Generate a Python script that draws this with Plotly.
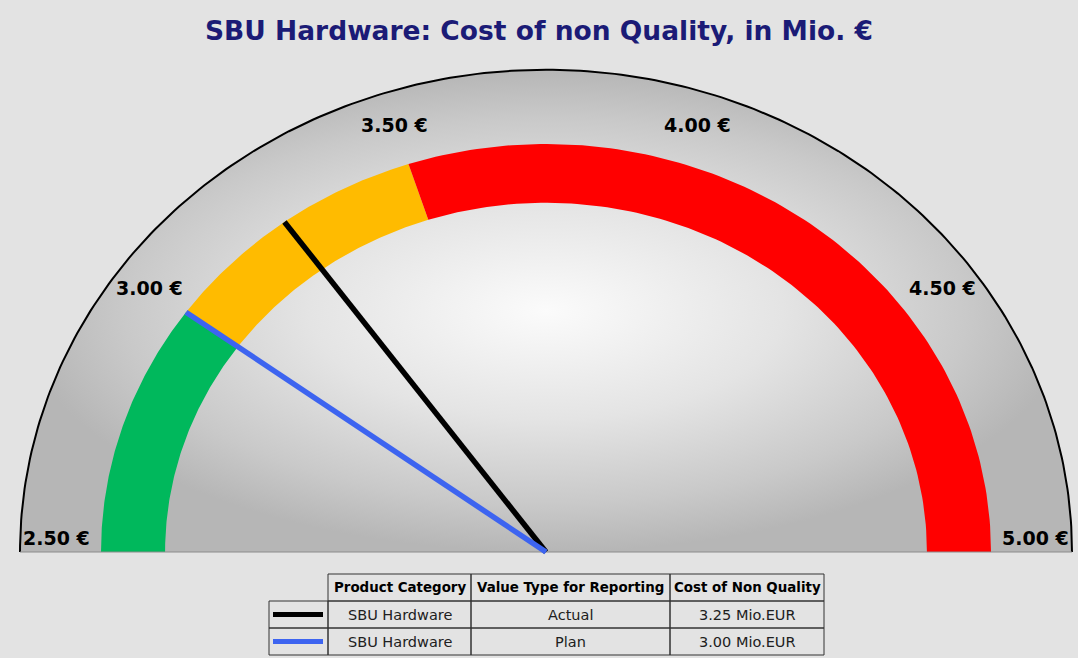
import numpy as np
import plotly.graph_objects as go

# ---------------- data ----------------
scale_min, scale_max = 2.5, 5.0
tick_values = [2.5, 3.0, 3.5, 4.0, 4.5, 5.0]
tick_labels = ["2.50 €", "3.00 €", "3.50 €", "4.00 €", "4.50 €", "5.00 €"]
band_starts = [2.5, 3.0, 3.5]
band_ends = [3.0, 3.5, 5.0]
band_colors = ["#00b85c", "#ffbb00", "#ff0000"]
series_names = ["Actual", "Plan"]
series_values = [3.25, 3.00]
series_colors = ["#000000", "#3d64f0"]
product_category = ["SBU Hardware", "SBU Hardware"]
table_headers = ["Product Category", "Value Type for Reporting", "Cost of Non Quality"]
title_text = "SBU Hardware: Cost of non Quality, in Mio. €"

# ---------------- style / geometry ----------------
W, H = 1078, 658
BG = "#e3e3e3"
CX_PX, CY_PX = 546, 552          # gauge centre in pixels
PX_X, PX_Y = 445.0, 408.0        # pixels per gauge unit
R_OUT = 1.182                    # outer dial edge
R_BAND_OUT, R_BAND_IN = 1.0, 0.856
R_NEEDLE = 1.0
R_LABEL = 1.10
FONT = "DejaVu Sans"


def theta(v):
    return np.pi * (1 - (v - scale_min) / (scale_max - scale_min))


fig = go.Figure()

# dial face with radial gradient
t = np.linspace(0, np.pi, 241)
fig.add_trace(go.Scatter(
    x=np.r_[R_OUT * np.cos(t), R_OUT], y=np.r_[R_OUT * np.sin(t), 0],
    mode="lines", fill="toself", line=dict(width=0),
    fillgradient=dict(type="radial",
                      colorscale=[[0, "#fbfbfb"], [0.45, "#e4e4e4"],
                                  [0.8, "#c9c9c9"], [1, "#b6b6b6"]]),
    hoverinfo="skip"))

# colour bands
for s, e, c in zip(band_starts, band_ends, band_colors):
    tt = np.linspace(theta(s), theta(e), 120)
    xs = np.r_[R_BAND_OUT * np.cos(tt), R_BAND_IN * np.cos(tt[::-1])]
    ys = np.r_[R_BAND_OUT * np.sin(tt), R_BAND_IN * np.sin(tt[::-1])]
    fig.add_trace(go.Scatter(x=np.r_[xs, xs[0]], y=np.r_[ys, ys[0]], mode="lines",
                             fill="toself", fillcolor=c, line=dict(width=0, color=c),
                             hoverinfo="skip"))

# outer rim and base line
fig.add_trace(go.Scatter(x=R_OUT * np.cos(t), y=R_OUT * np.sin(t), mode="lines",
                         line=dict(color="#000000", width=2), hoverinfo="skip"))
fig.add_trace(go.Scatter(x=[-R_OUT, R_OUT], y=[0, 0], mode="lines",
                         line=dict(color="#8c8c8c", width=1), hoverinfo="skip"))

# needles
for name, v, c in zip(series_names, series_values, series_colors):
    fig.add_trace(go.Scatter(x=[0, R_NEEDLE * np.cos(theta(v))],
                             y=[0, R_NEEDLE * np.sin(theta(v))],
                             mode="lines", name=name,
                             line=dict(color=c, width=5.5), hoverinfo="skip"))

# tick labels
for v, lab in zip(tick_values, tick_labels):
    th = theta(v)
    end = v in (scale_min, scale_max)
    fig.add_annotation(
        x=R_LABEL * np.cos(th), y=0 if end else R_LABEL * np.sin(th),
        xref="x", yref="y", text=f"<b>{lab}</b>", showarrow=False,
        yanchor="bottom" if end else "middle", yshift=1 if end else 0,
        font=dict(family=FONT, size=19, color="#000000"))

# title
fig.add_annotation(x=0.5, y=1 - 30 / H, xref="paper", yref="paper",
                   xanchor="center", yanchor="middle",
                   text=f"<b>{title_text}</b>", showarrow=False,
                   font=dict(family=FONT, size=26.5, color="#1b1b76"))

# ---------------- table (grid drawn as layout shapes) ----------------
col_edges = [269, 328, 471, 670, 824]
row_edges = [574, 601, 628, 655]
value_labels = [f"{v:.2f} Mio.EUR" for v in series_values]
body_cols = [None, product_category, series_names, value_labels]


def px(x):
    return x / W


def py(y):
    return 1 - y / H


for r in range(3):
    for c in range(4):
        if r == 0 and c == 0:
            continue
        fig.add_shape(type="rect", xref="paper", yref="paper",
                      x0=px(col_edges[c]), x1=px(col_edges[c + 1]),
                      y0=py(row_edges[r]), y1=py(row_edges[r + 1]),
                      line=dict(color="#333333", width=1), layer="above")
        xc = (col_edges[c] + col_edges[c + 1]) / 2
        yc = (row_edges[r] + row_edges[r + 1]) / 2
        if r == 0:
            fig.add_annotation(x=px(xc), y=py(yc), xref="paper", yref="paper",
                               text=f"<b>{table_headers[c - 1]}</b>", showarrow=False,
                               xanchor="center", yanchor="middle",
                               font=dict(family=FONT, size=13.4, color="#000000"))
        elif c == 0:
            fig.add_shape(type="line", xref="paper", yref="paper",
                          x0=px(col_edges[0] + 4), x1=px(col_edges[1] - 5),
                          y0=py(yc), y1=py(yc),
                          line=dict(color=series_colors[r - 1], width=5), layer="above")
        else:
            fig.add_annotation(x=px(xc), y=py(yc), xref="paper", yref="paper",
                               text=body_cols[c][r - 1], showarrow=False,
                               xanchor="center", yanchor="middle",
                               font=dict(family=FONT, size=14.5, color="#202020"))

fig.update_xaxes(range=[(0 - CX_PX) / PX_X, (W - CX_PX) / PX_X], visible=False,
                 fixedrange=True)
fig.update_yaxes(range=[(CY_PX - H) / PX_Y, CY_PX / PX_Y], visible=False,
                 fixedrange=True)
fig.update_layout(width=W, height=H, margin=dict(l=0, r=0, t=0, b=0),
                  paper_bgcolor=BG, plot_bgcolor=BG, showlegend=False)

fig.write_html("out.html", config={"displayModeBar": False},
               post_script="document.body.style.margin='0px';"
                           "document.body.style.background='#e3e3e3';"
                           "document.body.style.overflow='hidden';")
